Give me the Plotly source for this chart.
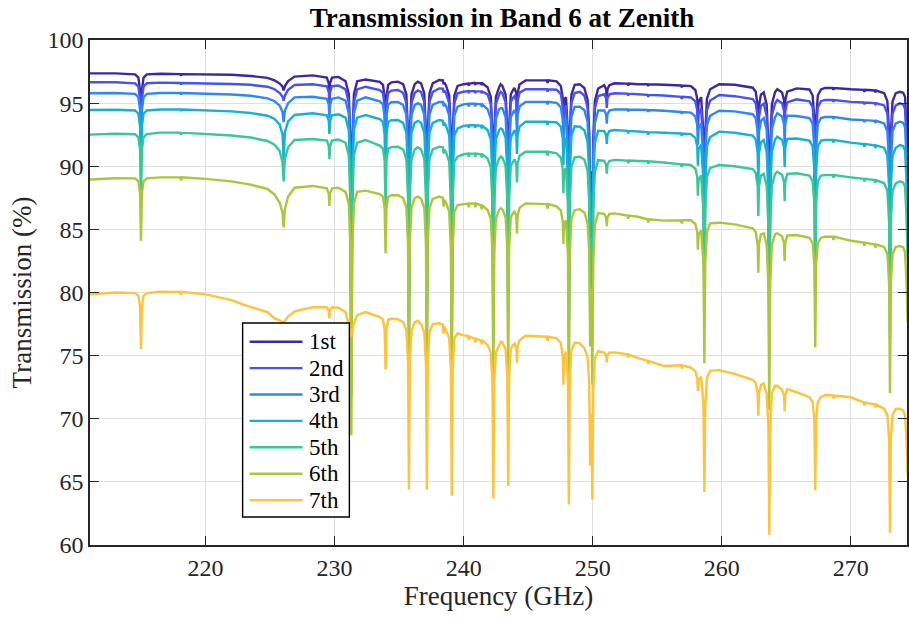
import plotly.graph_objects as go

# ---------------- data ----------------
freq_ghz = [
    211.0, 213.0, 214.55, 214.8, 214.93, 215.0, 215.07, 215.2, 215.45, 216.5,
    218.04, 218.1, 218.16, 220.0, 222.0, 223.5, 224.8, 225.35, 225.75, 225.97,
    226.05, 226.15, 226.4, 226.9, 228.3, 229.4, 229.55, 229.6, 229.65, 229.8,
    230.3, 230.85, 231.1, 231.23, 231.3, 231.37, 231.5, 231.75, 232.4, 233.5,
    233.75, 233.88, 233.95, 234.02, 234.15, 234.4, 234.9, 235.31, 235.56, 235.69,
    235.76, 235.83, 235.96, 236.21, 236.45, 236.7, 236.95, 237.08, 237.15, 237.22,
    237.35, 237.6, 238.1, 238.39, 238.45, 238.51, 238.63, 238.88, 239.01, 239.08,
    239.15, 239.28, 239.53, 240.0, 240.34, 240.4, 240.46, 240.84, 240.9, 240.96,
    241.34, 241.4, 241.46, 241.85, 242.1, 242.23, 242.3, 242.37, 242.5, 242.75,
    242.87, 243.0, 243.25, 243.38, 243.45, 243.52, 243.65, 243.8, 243.93, 244.08,
    244.13, 244.18, 244.33, 244.8, 245.8, 246.44, 246.5, 246.56, 247.2, 247.53,
    247.68, 247.73, 247.78, 247.93, 248.08, 248.15, 248.22, 248.35, 248.6, 249.0,
    249.35, 249.6, 249.73, 249.8, 249.885, 249.97, 250.04, 250.17, 250.42, 250.89,
    251.04, 251.09, 251.14, 251.29, 251.7, 252.69, 252.75, 252.81, 253.5, 254.24,
    254.3, 254.36, 255.5, 256.84, 256.9, 256.96, 257.6, 257.95, 258.1, 258.15,
    258.2, 258.4, 258.58, 258.65, 258.72, 258.85, 259.1, 259.8, 261.0, 262.4,
    262.63, 262.78, 262.83, 262.88, 263.03, 263.25, 263.48, 263.61, 263.68, 263.75,
    263.88, 264.13, 264.3, 264.67, 264.82, 264.87, 264.92, 265.07, 265.8, 266.79,
    267.04, 267.17, 267.24, 267.31, 267.44, 267.69, 268.0, 268.59, 268.65, 268.71,
    270.0, 270.99, 271.05, 271.11, 271.84, 271.9, 271.96, 272.58, 272.83, 272.96,
    273.03, 273.1, 273.23, 273.48, 273.8, 274.05, 274.2, 274.3, 274.4, 274.5,
]

trans_1st = [
    97.36, 97.36, 97.28, 97.02, 95.99, 91.9, 95.99, 97.02, 97.28, 97.33,
    97.3, 97.18, 97.3, 97.3, 97.25, 97.15, 97.0, 96.8, 96.55, 96.3,
    96.0, 96.35, 96.75, 97.1, 97.2, 97.03, 96.57, 95.5, 96.57, 97.03,
    97.08, 96.74, 95.72, 91.65, 75.6, 91.65, 95.72, 96.74, 96.87, 96.69,
    96.44, 95.45, 91.53, 95.45, 96.44, 96.64, 96.7, 96.5, 95.7, 92.52,
    79.97, 92.52, 95.7, 96.5, 96.7, 96.56, 95.77, 92.62, 80.21, 92.62,
    95.77, 96.56, 96.83, 96.8, 96.5, 96.63, 96.4, 95.6, 92.45, 79.98,
    92.45, 95.6, 96.36, 96.5, 96.55, 96.4, 96.55, 96.6, 96.45, 96.6,
    96.58, 96.43, 96.56, 96.26, 95.51, 92.55, 80.83, 92.55, 95.51, 96.26,
    96.5, 96.37, 95.68, 92.91, 81.97, 92.91, 95.68, 96.0, 96.2, 95.8,
    94.23, 95.8, 96.48, 96.8, 96.8, 96.8, 96.6, 96.8, 96.72, 96.36,
    95.37, 93.3, 95.27, 95.47, 92.52, 80.12, 92.52, 95.66, 96.45, 96.5,
    96.2, 95.27, 92.69, 84.39, 89.6, 81.02, 92.0, 95.17, 96.16, 96.42,
    96.09, 95.34, 96.09, 96.42, 96.57, 96.55, 96.4, 96.55, 96.5, 96.5,
    96.35, 96.5, 96.45, 96.4, 96.25, 96.4, 96.35, 96.04, 95.33, 93.75,
    95.07, 95.47, 92.49, 83.63, 92.53, 95.33, 96.1, 96.5, 96.45, 96.22,
    95.9, 94.79, 92.26, 94.76, 95.67, 95.85, 94.87, 91.39, 80.13, 91.39,
    94.91, 95.88, 96.1, 95.84, 95.24, 93.6, 95.24, 95.91, 96.17, 96.08,
    95.6, 93.7, 86.2, 93.7, 95.6, 96.08, 96.2, 96.2, 96.05, 96.2,
    96.1, 96.05, 95.9, 96.05, 96.0, 95.85, 96.0, 95.79, 95.14, 92.59,
    82.52, 92.59, 95.14, 95.79, 95.9, 95.82, 95.5, 93.3, 89.2, 93.3,
]

trans_2nd = [
    96.65, 96.65, 96.57, 96.31, 95.28, 91.22, 95.28, 96.31, 96.57, 96.62,
    96.6, 96.48, 96.6, 96.58, 96.52, 96.45, 96.3, 96.1, 95.8, 95.5,
    95.2, 95.6, 96.05, 96.44, 96.5, 96.34, 95.88, 94.81, 95.88, 96.34,
    96.4, 96.09, 95.07, 91.03, 75.05, 91.03, 95.07, 96.09, 96.3, 96.04,
    95.79, 94.8, 90.91, 94.8, 95.79, 95.99, 96.04, 95.82, 95.02, 91.87,
    79.41, 91.87, 95.02, 95.82, 96.0, 95.88, 95.09, 91.97, 79.65, 91.97,
    95.09, 95.88, 96.17, 96.15, 95.85, 95.98, 95.8, 95.01, 91.87, 79.49,
    91.87, 95.01, 95.78, 95.9, 95.95, 95.8, 95.95, 95.95, 95.8, 95.95,
    95.93, 95.78, 95.91, 95.69, 94.95, 92.0, 80.35, 92.0, 94.95, 95.69,
    95.9, 95.78, 95.08, 92.33, 81.46, 92.33, 95.08, 95.4, 95.55, 95.16,
    93.6, 95.16, 95.83, 96.1, 96.1, 96.1, 95.9, 96.1, 96.06, 95.71,
    94.72, 92.65, 94.62, 94.82, 91.9, 79.58, 91.9, 95.01, 95.8, 95.9,
    95.6, 94.68, 92.11, 83.87, 89.04, 80.51, 91.42, 94.58, 95.56, 95.7,
    95.38, 94.63, 95.38, 95.7, 95.78, 95.75, 95.6, 95.75, 95.7, 95.65,
    95.5, 95.65, 95.6, 95.5, 95.35, 95.5, 95.45, 95.14, 94.44, 92.87,
    94.18, 94.58, 91.62, 82.85, 91.67, 94.44, 95.2, 95.64, 95.55, 95.32,
    95.0, 93.9, 91.39, 93.87, 94.78, 94.96, 93.98, 90.54, 79.38, 90.54,
    94.02, 94.99, 95.25, 94.99, 94.39, 92.77, 94.39, 95.06, 95.3, 95.15,
    94.68, 92.79, 85.36, 92.79, 94.68, 95.15, 95.25, 95.25, 95.1, 95.25,
    95.1, 95.05, 94.9, 95.05, 95.0, 94.85, 95.0, 94.82, 94.18, 91.66,
    81.68, 91.66, 94.18, 94.82, 94.98, 94.9, 94.55, 92.35, 88.3, 92.35,
]

trans_3rd = [
    95.78, 95.8, 95.73, 95.47, 94.45, 90.43, 94.45, 95.47, 95.73, 95.8,
    95.8, 95.68, 95.8, 95.75, 95.68, 95.58, 95.38, 95.15, 94.8, 94.3,
    93.5, 94.4, 95.0, 95.46, 95.5, 95.34, 94.88, 93.83, 94.88, 95.34,
    95.45, 95.2, 94.18, 90.18, 74.35, 90.18, 94.18, 95.2, 95.46, 95.14,
    94.89, 93.92, 90.06, 93.92, 94.89, 95.07, 95.1, 94.85, 94.06, 90.94,
    78.61, 90.94, 94.06, 94.85, 95.0, 94.86, 94.08, 90.99, 78.8, 90.99,
    94.08, 94.86, 95.1, 95.1, 94.75, 94.93, 94.8, 94.02, 90.92, 78.66,
    90.92, 94.02, 94.72, 94.9, 94.95, 94.75, 94.95, 94.95, 94.75, 94.95,
    94.9, 94.7, 94.88, 94.52, 93.78, 90.87, 79.36, 90.87, 93.78, 94.52,
    94.6, 94.58, 93.89, 91.17, 80.44, 91.17, 93.89, 94.2, 94.45, 94.07,
    92.53, 94.07, 94.73, 95.1, 95.1, 95.1, 94.9, 95.1, 95.02, 94.67,
    93.68, 91.6, 93.59, 93.8, 90.84, 78.67, 90.84, 93.93, 94.7, 94.72,
    94.46, 93.55, 91.01, 82.86, 87.98, 79.55, 90.32, 93.44, 94.42, 94.42,
    94.1, 93.37, 94.1, 94.42, 94.5, 94.5, 94.35, 94.5, 94.48, 94.46,
    94.31, 94.46, 94.4, 94.3, 94.15, 94.3, 94.25, 93.95, 93.25, 91.71,
    93.0, 93.39, 90.47, 81.81, 90.52, 93.25, 94.0, 94.4, 94.35, 94.12,
    93.8, 92.72, 90.24, 92.69, 93.59, 93.81, 92.9, 89.49, 78.47, 89.49,
    92.94, 93.89, 94.2, 93.95, 93.35, 91.75, 93.35, 94.01, 93.98, 93.82,
    93.35, 91.5, 84.17, 91.5, 93.35, 93.82, 93.9, 93.9, 93.75, 93.9,
    93.7, 93.65, 93.5, 93.65, 93.6, 93.45, 93.6, 93.39, 92.76, 90.28,
    80.45, 90.28, 92.76, 93.39, 93.53, 93.45, 93.1, 90.9, 86.9, 90.9,
]

trans_4th = [
    94.46, 94.48, 94.42, 94.16, 93.16, 89.19, 93.16, 94.16, 94.42, 94.5,
    94.5, 94.37, 94.5, 94.45, 94.35, 94.22, 94.0, 93.75, 93.3, 92.5,
    90.5, 92.7, 93.55, 94.06, 94.2, 94.04, 93.59, 92.55, 93.59, 94.04,
    94.12, 93.85, 92.85, 88.9, 73.3, 88.9, 92.85, 93.85, 94.06, 93.74,
    93.5, 92.53, 88.73, 92.53, 93.5, 93.64, 93.66, 93.44, 92.66, 89.58,
    77.43, 89.58, 92.66, 93.44, 93.6, 93.44, 92.67, 89.63, 77.62, 89.63,
    92.67, 93.44, 93.66, 93.6, 93.2, 93.43, 93.21, 92.44, 89.39, 77.34,
    89.39, 92.44, 93.0, 93.2, 93.25, 93.05, 93.25, 93.25, 93.05, 93.25,
    93.2, 93.0, 93.18, 92.87, 92.15, 89.28, 77.98, 89.28, 92.15, 92.87,
    93.0, 92.93, 92.26, 89.59, 79.04, 89.59, 92.26, 92.55, 92.85, 92.48,
    90.97, 92.48, 93.14, 93.53, 93.53, 93.53, 93.28, 93.53, 93.47, 93.13,
    92.17, 90.1, 92.07, 92.26, 89.36, 77.39, 89.36, 92.39, 93.16, 93.13,
    92.86, 91.96, 89.47, 81.46, 86.49, 78.2, 88.8, 91.86, 92.82, 92.79,
    92.48, 91.76, 92.48, 92.79, 92.87, 92.8, 92.6, 92.8, 92.75, 92.7,
    92.5, 92.7, 92.65, 92.6, 92.4, 92.6, 92.55, 92.25, 91.57, 90.05,
    91.32, 91.71, 88.84, 80.33, 88.88, 91.57, 92.31, 92.74, 92.65, 92.43,
    92.11, 91.05, 88.62, 91.02, 91.9, 92.07, 91.13, 87.78, 76.97, 87.78,
    91.16, 92.1, 92.34, 92.09, 91.51, 89.94, 91.51, 92.16, 92.2, 92.03,
    91.57, 89.75, 82.56, 89.75, 91.57, 92.03, 92.08, 92.08, 91.88, 92.08,
    91.87, 91.75, 91.55, 91.75, 91.65, 91.45, 91.65, 91.47, 90.85, 88.41,
    78.79, 88.41, 90.85, 91.47, 91.68, 91.6, 91.25, 89.1, 85.2, 89.1,
]

trans_5th = [
    92.5, 92.58, 92.54, 92.29, 91.3, 87.41, 91.3, 92.29, 92.54, 92.66,
    92.66, 92.51, 92.66, 92.55, 92.43, 92.28, 92.0, 91.7, 91.2, 90.3,
    88.8, 90.6, 91.5, 92.08, 92.16, 92.04, 91.6, 90.58, 91.6, 92.04,
    92.12, 91.86, 90.88, 87.01, 71.75, 87.01, 90.88, 91.86, 92.08, 91.64,
    91.4, 90.46, 86.75, 90.46, 91.4, 91.52, 91.55, 91.33, 90.57, 87.56,
    75.69, 87.56, 90.57, 91.33, 91.5, 91.33, 90.58, 87.61, 75.87, 87.61,
    90.58, 91.33, 91.55, 91.5, 91.0, 91.33, 91.11, 90.36, 87.38, 75.6,
    87.38, 90.36, 90.76, 90.95, 91.0, 90.75, 91.0, 91.0, 90.75, 91.0,
    90.95, 90.7, 90.93, 90.62, 89.92, 87.12, 76.09, 87.12, 89.92, 90.62,
    90.76, 90.68, 90.03, 87.42, 77.13, 87.42, 90.03, 90.3, 90.55, 90.2,
    88.72, 90.2, 90.84, 91.15, 91.15, 91.15, 90.85, 91.15, 91.03, 90.69,
    89.74, 87.86, 89.65, 89.85, 87.02, 75.36, 87.02, 89.97, 90.71, 90.76,
    90.53, 89.64, 87.21, 79.41, 84.31, 76.23, 86.56, 89.54, 90.48, 90.42,
    90.12, 89.41, 90.12, 90.42, 90.5, 90.45, 90.25, 90.45, 90.42, 90.4,
    90.2, 90.4, 90.3, 90.15, 89.95, 90.15, 90.1, 89.81, 89.15, 87.67,
    88.9, 89.28, 86.49, 78.21, 86.53, 89.15, 89.87, 90.1, 90.0, 89.77,
    89.46, 88.43, 86.07, 88.4, 89.26, 89.39, 88.46, 85.22, 74.72, 85.22,
    88.5, 89.4, 89.57, 89.33, 88.76, 87.24, 88.76, 89.39, 89.44, 89.26,
    88.81, 87.05, 80.08, 87.05, 88.81, 89.26, 89.3, 89.3, 89.1, 89.3,
    89.12, 89.0, 88.8, 89.0, 88.9, 88.7, 88.9, 88.65, 88.05, 85.69,
    76.37, 85.69, 88.05, 88.65, 88.8, 88.72, 88.35, 86.3, 82.5, 86.3,
]

trans_6th = [
    88.95, 89.05, 89.04, 88.8, 87.85, 84.11, 87.85, 88.8, 89.04, 89.12,
    89.12, 88.87, 89.12, 89.0, 88.8, 88.55, 88.2, 87.75, 87.1, 86.3,
    85.16, 86.6, 87.6, 88.3, 88.44, 88.25, 87.83, 86.85, 87.83, 88.25,
    88.3, 87.97, 87.03, 83.33, 68.7, 83.33, 87.03, 87.97, 88.07, 87.79,
    87.57, 86.67, 83.11, 86.67, 87.57, 87.7, 87.72, 87.48, 86.75, 83.87,
    72.49, 83.87, 86.75, 87.48, 87.6, 87.42, 86.7, 83.86, 72.62, 83.86,
    86.7, 87.42, 87.6, 87.5, 86.8, 87.33, 87.12, 86.4, 83.55, 72.28,
    83.55, 86.4, 86.93, 87.02, 87.05, 86.75, 87.05, 87.05, 86.75, 87.05,
    86.9, 86.6, 86.88, 86.53, 85.86, 83.19, 72.65, 83.19, 85.86, 86.53,
    86.67, 86.59, 85.96, 83.48, 73.65, 83.48, 85.96, 86.25, 86.4, 86.09,
    84.68, 86.09, 86.7, 87.06, 87.0, 87.0, 86.65, 87.0, 86.82, 86.5,
    85.6, 83.84, 85.52, 85.7, 82.99, 71.87, 82.99, 85.81, 86.52, 86.6,
    86.34, 85.49, 83.17, 75.73, 80.4, 72.7, 82.55, 85.4, 86.29, 86.23,
    85.94, 85.26, 85.94, 86.23, 86.27, 86.1, 85.85, 86.1, 86.0, 85.8,
    85.55, 85.8, 85.69, 85.72, 85.47, 85.72, 85.72, 85.43, 84.79, 83.39,
    84.56, 84.92, 82.26, 74.39, 82.31, 84.79, 85.48, 85.53, 85.4, 85.08,
    84.79, 83.81, 81.57, 83.79, 84.6, 84.68, 83.73, 80.66, 70.72, 80.66,
    83.76, 84.62, 84.69, 84.46, 83.93, 82.49, 83.93, 84.52, 84.55, 84.34,
    83.92, 82.26, 75.67, 82.26, 83.92, 84.34, 84.42, 84.42, 84.17, 84.42,
    84.1, 83.95, 83.7, 83.95, 83.8, 83.55, 83.8, 83.61, 83.05, 80.82,
    72.02, 80.82, 83.05, 83.61, 83.68, 83.58, 83.2, 81.2, 77.6, 81.2,
]

trans_7th = [
    79.85, 80.0, 79.95, 79.73, 78.88, 75.52, 78.88, 79.73, 79.95, 80.07,
    80.05, 79.8, 80.05, 79.85, 79.4, 78.85, 78.45, 77.95, 77.8, 77.7,
    77.6, 77.75, 78.1, 78.5, 78.83, 78.83, 78.57, 77.95, 78.57, 78.83,
    78.8, 78.45, 77.6, 77.0, 76.5, 77.0, 77.6, 78.2, 78.45, 78.05,
    77.85, 77.05, 73.9, 77.05, 77.85, 77.92, 77.88, 77.66, 77.01, 74.47,
    64.4, 74.47, 77.01, 77.66, 77.77, 77.5, 76.86, 74.34, 64.38, 74.34,
    76.86, 77.5, 77.56, 77.45, 76.75, 77.3, 77.04, 76.4, 73.88, 63.9,
    73.88, 76.4, 76.77, 76.6, 76.55, 76.25, 76.5, 76.35, 76.05, 76.33,
    76.2, 75.9, 76.18, 75.85, 75.26, 72.92, 63.69, 72.92, 75.26, 75.85,
    76.1, 76.06, 75.51, 73.33, 64.7, 73.33, 75.51, 75.8, 75.95, 75.68,
    74.44, 75.68, 76.22, 76.58, 76.55, 76.5, 76.15, 76.5, 76.37, 76.0,
    74.95, 72.7, 74.87, 75.31, 72.95, 63.2, 72.95, 75.42, 76.04, 75.97,
    75.6, 74.88, 72.84, 66.3, 70.42, 63.6, 72.3, 74.79, 75.35, 75.24,
    75.01, 74.47, 75.01, 75.24, 75.26, 75.1, 74.85, 75.08, 74.8, 74.6,
    74.35, 74.58, 74.18, 74.23, 73.98, 74.22, 74.05, 73.76, 73.22, 72.2,
    73.02, 73.33, 71.03, 64.2, 71.07, 73.22, 73.81, 73.85, 73.55, 73.09,
    72.84, 72.0, 70.24, 71.98, 72.67, 72.8, 71.99, 69.35, 60.8, 69.35,
    72.02, 72.62, 72.6, 72.3, 71.85, 70.6, 71.85, 72.35, 72.1, 71.71,
    71.35, 69.93, 64.33, 69.93, 71.35, 71.71, 71.88, 71.85, 71.6, 71.83,
    71.7, 71.3, 71.05, 71.28, 71.15, 70.9, 71.12, 70.78, 70.3, 68.42,
    60.97, 68.42, 70.3, 70.78, 70.8, 70.65, 70.25, 68.6, 65.5, 68.6,
]

series_names = ["1st", "2nd", "3rd", "4th", "5th", "6th", "7th"]
series_colors = ["#3E26A8", "#4852F4", "#2D87F7", "#12B1D6", "#37C897", "#ABC739", "#FEC338"]
x_ticks = [220, 230, 240, 250, 260, 270]
y_ticks = [60, 65, 70, 75, 80, 85, 90, 95, 100]

# ---------------- figure ----------------
W, H = 909, 619
ML, MT, MB, MR = 90, 40, 74, 0
PW, PH = W - ML - MR, H - MT - MB
FONT = "Liberation Serif, Times New Roman, serif"
INK = "#262626"

all_series = [trans_1st, trans_2nd, trans_3rd, trans_4th, trans_5th, trans_6th, trans_7th]
for vals in all_series:
    assert len(vals) == len(freq_ghz), len(vals)

fig = go.Figure()
for name, vals, color in zip(series_names, all_series, series_colors):
    fig.add_trace(go.Scatter(x=freq_ghz, y=vals, mode="lines", name=name,
                             line=dict(color=color, width=2.4), showlegend=False))

axis_common = dict(ticks="inside", ticklen=9, tickwidth=1.3, tickcolor=INK,
                   showline=True, linecolor=INK, linewidth=1.5, mirror="ticks",
                   showgrid=True, gridcolor="#dfdfdf", gridwidth=1.3, zeroline=False,
                   tickfont=dict(family=FONT, size=24, color=INK))

fig.update_layout(
    width=W, height=H, margin=dict(l=ML, r=MR, t=MT, b=MB),
    paper_bgcolor="white", plot_bgcolor="white",
    font=dict(family=FONT, color=INK),
    title=dict(text="<b>Transmission in Band 6 at Zenith</b>", x=(503 - ML) / PW, xref="paper",
               xanchor="center", y=1 - 18 / H, yanchor="middle",
               font=dict(family=FONT, size=27, color="#000000")),
    xaxis=dict(range=[211.05, 274.35], tickvals=x_ticks,
               title=dict(text="Frequency (GHz)", font=dict(family=FONT, size=27, color=INK), standoff=6),
               **axis_common),
    yaxis=dict(range=[60, 100], tickvals=y_ticks,
               title=dict(text="Transmission (%)", font=dict(family=FONT, size=27, color=INK), standoff=8),
               **axis_common),
)

# ---------------- legend box (drawn in paper coordinates) ----------------
def px_x(px):
    return (px - ML) / PW

def px_y(py):
    return (H - MB - py) / PH

shapes = [dict(type="rect", xref="paper", yref="paper",
               x0=px_x(243), x1=px_x(350), y0=px_y(517), y1=px_y(323),
               line=dict(color="#000000", width=1.4), fillcolor="white", layer="above")]
annotations = []
for i, (name, color) in enumerate(zip(series_names, series_colors)):
    yy = 341.7 + i * 26.4
    shapes.append(dict(type="line", xref="paper", yref="paper",
                       x0=px_x(250), x1=px_x(303), y0=px_y(yy), y1=px_y(yy),
                       line=dict(color=color, width=2.4), layer="above"))
    annotations.append(dict(text=name, xref="paper", yref="paper", x=px_x(308), y=px_y(yy),
                            xanchor="left", yanchor="middle", showarrow=False,
                            font=dict(family=FONT, size=23, color="#000000")))
fig.update_layout(shapes=shapes, annotations=annotations)

fig.write_html("out.html", config={"displayModeBar": False},
               post_script="document.body.style.margin='0';")
